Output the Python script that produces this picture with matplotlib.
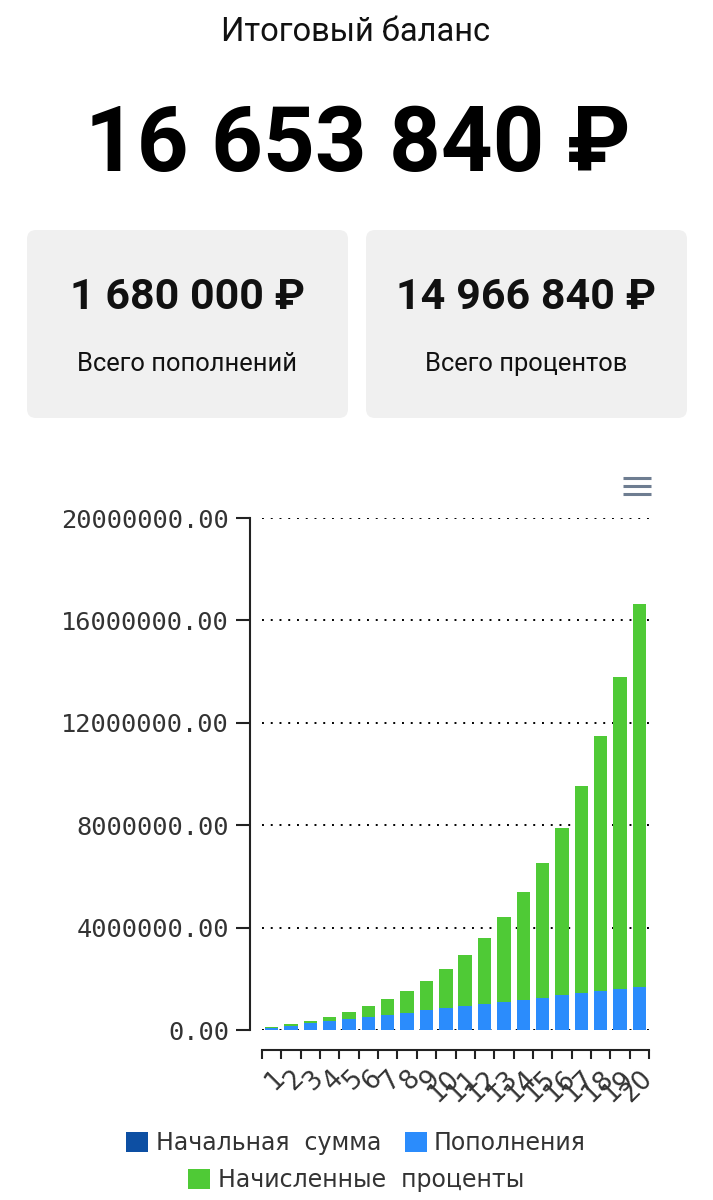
import matplotlib
matplotlib.use("Agg")
import matplotlib.pyplot as plt
import numpy as np
from matplotlib.patches import FancyBboxPatch, Patch
from matplotlib.lines import Line2D
from matplotlib.transforms import IdentityTransform
from matplotlib.ticker import FixedLocator, FuncFormatter

# data
years = [str(i) for i in range(1, 21)]
totals = [0.10e6, 0.23e6, 0.35e6, 0.51e6, 0.70e6, 0.94e6, 1.20e6, 1.54e6, 1.93e6, 2.39e6,
          2.94e6, 3.61e6, 4.41e6, 5.38e6, 6.52e6, 7.89e6, 9.53e6, 11.48e6, 13.80e6, 16.65e6]
initial = [7000] * 20
deposits = [84000 * (i + 1) for i in range(20)]
interest = [t - d - s for t, d, s in zip(totals, deposits, initial)]

title = "Итоговый баланс"
final_balance = "16 653 840 ₽"
card_values = ["1 680 000 ₽", "14 966 840 ₽"]
card_labels = ["Всего пополнений", "Всего процентов"]
legend_labels = ["Начальная  сумма", "Пополнения", "Начисленные  проценты"]
colors = ["#0d4fa3", "#2b8cfc", "#4fca36"]

W, H = 713, 1200
fig = plt.figure(figsize=(W / 100, H / 100), dpi=100)
fig.patch.set_facecolor("white")
ui_font = ["Roboto", "DejaVu Sans"]
PX = 0.72  # points per pixel at dpi 100


def fx(x):
    return x / W


def fy(y):
    return 1 - y / H


# header
fig.text(fx(356), fy(32), title, ha="center", va="center", fontsize=23.5,
         family=ui_font, color="#111111")
fig.text(fx(358), fy(146), final_balance, ha="center", va="center", fontsize=65,
         family=ui_font, weight="bold", color="#000000")

# cards
for i, (val, lab) in enumerate(zip(card_values, card_labels)):
    x0 = 27 + i * 339
    box = FancyBboxPatch((x0, H - 418), 321, 188,
                         boxstyle="round,pad=0,rounding_size=9",
                         transform=IdentityTransform(), facecolor="#f0f0f0",
                         edgecolor="none")
    fig.add_artist(box)
    fig.text(fx(x0 + 160.5), fy(297), val, ha="center", va="center", fontsize=31,
             family=ui_font, weight="bold", color="#111111")
    fig.text(fx(x0 + 160.5), fy(364), lab, ha="center", va="center", fontsize=18.4,
             family=ui_font, color="#111111")

# menu icon
for yy in (478, 486, 494):
    fig.add_artist(Line2D([623, 651], [H - yy, H - yy], transform=IdentityTransform(),
                          color="#6e7d91", linewidth=2.2, solid_capstyle="butt"))

# chart
ax = fig.add_axes([fx(262), fy(1030), fx(649) - fx(262), fy(518) - fy(1030)])
x = np.arange(len(years))
w = 0.69
ax.bar(x, initial, width=w, color=colors[0], zorder=2)
ax.bar(x, deposits, width=w, bottom=initial, color=colors[1], zorder=2)
bottom2 = [a + b for a, b in zip(initial, deposits)]
ax.bar(x, interest, width=w, bottom=bottom2, color=colors[2], zorder=2)

ax.set_xlim(-0.5, len(years) - 0.5)
ax.set_ylim(0, 20000000)
ax.set_yticks(np.arange(0, 20000001, 4000000))
ax.yaxis.set_major_formatter(FuncFormatter(lambda v, p: "%.2f" % v))
ax.set_axisbelow(True)
ax.yaxis.grid(True, color="black", linestyle=(0, (1, 3.5)), linewidth=1.4)
ax.xaxis.grid(False)

for s in ("top", "right"):
    ax.spines[s].set_visible(False)
ax.spines["left"].set_position(("outward", 12 * PX))
ax.spines["bottom"].set_position(("outward", 20 * PX))
for s in ("left", "bottom"):
    ax.spines[s].set_linewidth(1.5)
    ax.spines[s].set_color("#222222")

ax.tick_params(axis="y", length=14 * PX, width=1.5, color="#222222", pad=5,
               labelsize=18.3, labelcolor="#333333")
for t in ax.get_yticklabels():
    t.set_family("DejaVu Sans Mono")

ax.xaxis.set_major_locator(FixedLocator(np.arange(-0.5, len(years), 1.0)))
ax.xaxis.set_minor_locator(FixedLocator(x))
ax.set_xticklabels([""] * (len(years) + 1))
ax.set_xticklabels(years, minor=True)
ax.tick_params(axis="x", which="major", length=9 * PX, width=1.5, color="#222222")
ax.tick_params(axis="x", which="minor", length=0, pad=11, labelsize=18.5,
               labelcolor="#333333")
for t in ax.get_xticklabels(minor=True):
    t.set_rotation(45)
    t.set_ha("right")
    t.set_va("top")
    t.set_rotation_mode("anchor")
    t.set_family("DejaVu Sans")

# legend
h = [Patch(facecolor=c, edgecolor="none") for c in colors]
leg_font = {"family": "DejaVu Sans", "size": 17}
fig.legend(h[:2], legend_labels[:2], loc="center", bbox_to_anchor=(fx(356), fy(1143)),
           ncol=2, frameon=False, prop=leg_font, handlelength=0.95, handleheight=0.95,
           handletextpad=0.3, columnspacing=1.0, labelcolor="#333333")
fig.legend(h[2:], legend_labels[2:], loc="center", bbox_to_anchor=(fx(356), fy(1180)),
           frameon=False, prop=leg_font, handlelength=0.95, handleheight=0.95,
           handletextpad=0.3, labelcolor="#333333")

fig.savefig("out.png", dpi=100)
